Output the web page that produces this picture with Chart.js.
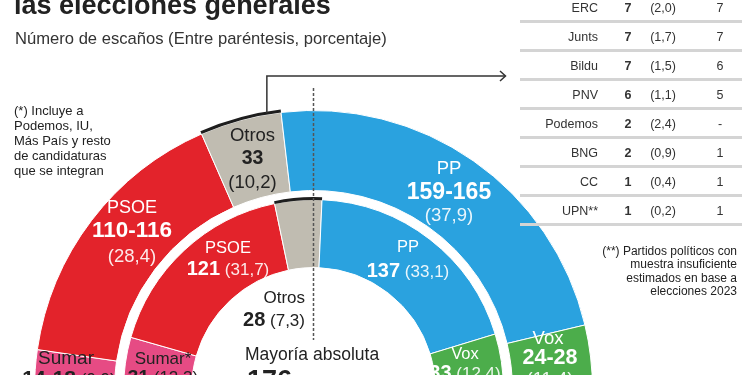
<!DOCTYPE html>
<html lang="es">
<head>
<meta charset="UTF-8">
<meta name="viewport" content="width=device-width, initial-scale=1.0">
<title>Encuesta - las elecciones generales</title>
<script src="https://cdn.jsdelivr.net/npm/chart.js"></script>
<style>
  html, body {
    margin: 0;
    padding: 0;
    width: 750px;
    height: 375px;
    overflow: hidden;
    background: #fff;
    font-family: "Liberation Sans", Arial, sans-serif;
    color: #222;
  }
  #wrap { position: absolute; left: 0; top: 0; width: 750px; height: 400px; }
  .t { position: absolute; white-space: nowrap; line-height: 1; }
  .c { transform: translate(-50%, -50%); text-align: center; }
  .r { transform: translate(-100%, -50%); text-align: right; }
  .l { transform: translate(0, -50%); }
  .w { color: #fff; }
  .w .p { color: rgba(255,255,255,0.9); }
  .d { color: #222; }
  b { font-weight: bold; }
  .title { left: 14px; top: -8px; font-size: 27px; font-weight: bold; color: #222; }
  .sub { left: 15px; top: 39px; font-size: 16.6px; color: #333; }
  .note { font-size: 13px; line-height: 15px; color: #222; white-space: normal; }
  .note2 { font-size: 12px; line-height: 13.3px; color: #222; text-align: right; }
  .row { position: absolute; font-size: 12.5px; color: #333; line-height: 1; }
  .sep { position: absolute; left: 520px; width: 222px; height: 3px; background: #d4d4d4; }
</style>
</head>
<body>
<div id="wrap"><canvas id="chart"></canvas></div>
<div id="labels"></div>

<script>
  // partidos en el semicírculo (de izquierda a derecha)
  const parties = ['Sumar', 'PSOE', 'Otros', 'PP', 'Vox'];
  const innerNames = ['Sumar*', 'PSOE', 'Otros', 'PP', 'Vox'];
  const colors = ['#e64b84', '#e3232b', '#c0bcb1', '#2aa2df', '#4cad4b'];

  // estimación (anillo exterior), escaños centrales de cada horquilla
  const seatsPoll = [16, 113, 33, 162, 26];
  const seatsPollText = ['14-18', '110-116', '33', '159-165', '24-28'];
  const pctPoll = ['9,9', '28,4', '10,2', '37,9', '11,4'];

  // elecciones 2023 (anillo interior)
  const seats2023 = [31, 121, 28, 137, 33];
  const pct2023 = ['12,3', '31,7', '7,3', '33,1', '12,4'];

  // tabla de otros partidos
  const otherParties = ['ERC', 'Junts', 'Bildu', 'PNV', 'Podemos', 'BNG', 'CC', 'UPN**'];
  const otherSeats = [7, 7, 7, 6, 2, 2, 1, 1];
  const otherPct = ['2,0', '1,7', '1,5', '1,1', '2,4', '0,9', '0,4', '0,2'];
  const otherSeats2023 = ['7', '7', '6', '5', '-', '1', '1', '1'];

  const majority = 176;

  // black brackets over "Otros", the arrow to the table and the half line
  const decor = {
    id: 'decor',
    afterDatasetsDraw(chart) {
      const ctx = chart.ctx;
      const o = chart.getDatasetMeta(0).data[2];
      const i = chart.getDatasetMeta(2).data[2];
      ctx.save();
      ctx.strokeStyle = '#1e1e1e';
      ctx.lineWidth = 3;
      const ro = o.outerRadius + 1.5;
      ctx.beginPath();
      ctx.arc(o.x, o.y, ro, o.startAngle, o.endAngle);
      ctx.stroke();
      ctx.beginPath();
      ctx.arc(i.x, i.y, i.outerRadius + 1, i.startAngle, i.endAngle);
      ctx.stroke();

      // connector
      const a = o.startAngle + (o.endAngle - o.startAngle) * 0.83;
      const px = o.x + Math.cos(a) * ro;
      const py = o.y + Math.sin(a) * ro;
      ctx.lineWidth = 1.5;
      ctx.strokeStyle = '#333';
      ctx.beginPath();
      ctx.moveTo(px, py);
      ctx.lineTo(px, 76);
      ctx.lineTo(505, 76);
      ctx.stroke();
      ctx.beginPath();
      ctx.moveTo(500, 71);
      ctx.lineTo(505.5, 76);
      ctx.lineTo(500, 81);
      ctx.stroke();

      // dashed half line
      ctx.strokeStyle = '#555';
      ctx.lineWidth = 1.5;
      ctx.setLineDash([3, 2]);
      ctx.beginPath();
      ctx.moveTo(o.x, 88);
      ctx.lineTo(o.x, 340);
      ctx.stroke();
      ctx.restore();
    }
  };

  new Chart(document.getElementById('chart'), {
    type: 'doughnut',
    data: {
      labels: parties,
      datasets: [
        { data: seatsPoll, backgroundColor: colors, borderColor: '#fff', borderWidth: 1, weight: 80 },
        { data: [1], backgroundColor: 'rgba(0,0,0,0)', borderWidth: 0, weight: 9 },
        { data: seats2023, backgroundColor: colors, borderColor: '#fff', borderWidth: 1, weight: 68 }
      ]
    },
    options: {
      responsive: true,
      maintainAspectRatio: false,
      animation: false,
      rotation: -90,
      circumference: 180,
      cutout: '43.7%',
      layout: { padding: { left: 34, right: 157, top: 110, bottom: 10 } },
      plugins: { legend: { display: false }, tooltip: { enabled: false } }
    },
    plugins: [decor]
  });

  // texts
  let html = '';
  html += '<div class="t title">las elecciones generales</div>';
  html += '<div class="t sub l">Número de escaños (Entre paréntesis, porcentaje)</div>';
  html += '<div class="t note" style="left:14px;top:103px;width:140px">(*) Incluye a<br>Podemos, IU,<br>Más País y resto<br>de candidaturas<br>que se integran</div>';
  html += '<div class="t note2" style="right:13px;top:245px">(**) Partidos políticos con<br>muestra insuficiente<br>estimados en base a<br>elecciones 2023</div>';

  // table
  otherParties.forEach((p, k) => {
    const y = 7.5 + 29 * k;
    html += `<div class="t row r" style="left:598px;top:${y}px">${p}</div>`;
    html += `<div class="t row c" style="left:628px;top:${y}px"><b>${otherSeats[k]}</b></div>`;
    html += `<div class="t row c" style="left:663px;top:${y}px">(${otherPct[k]})</div>`;
    html += `<div class="t row c" style="left:720px;top:${y}px">${otherSeats2023[k]}</div>`;
    html += `<div class="sep" style="top:${y + 12}px"></div>`;
  });

  // labels on outer ring
  const lab = (x, y, cls, size, txt) =>
    `<div class="t ${cls}" style="left:${x}px;top:${y}px;font-size:${size}px">${txt}</div>`;

  html += lab(66, 357, 'c d', 19, parties[0]);
  html += lab(69, 377, 'c d', 17, `<b style="font-size:21px">${seatsPollText[0]}</b> (${pctPoll[0]})`);
  html += lab(132, 207, 'c w', 18, parties[1]);
  html += lab(132, 230, 'c w', 22.5, `<b>${seatsPollText[1]}</b>`);
  html += lab(132, 256, 'c w', 18.5, `<span class="p">(${pctPoll[1]})</span>`);
  html += lab(252.5, 135, 'c d', 18.5, parties[2]);
  html += lab(252.5, 158, 'c d', 19.5, `<b>${seatsPollText[2]}</b>`);
  html += lab(252.5, 182, 'c d', 18.5, `(${pctPoll[2]})`);
  html += lab(449, 168, 'c w', 18.5, parties[3]);
  html += lab(449, 191, 'c w', 23, `<b>${seatsPollText[3]}</b>`);
  html += lab(449, 215, 'c w', 18.5, `<span class="p">(${pctPoll[3]})</span>`);
  html += lab(548, 338, 'c w', 18.5, parties[4]);
  html += lab(550, 358, 'c w', 21.5, `<b>${seatsPollText[4]}</b>`);
  html += lab(550, 379, 'c w', 18.5, `<span class="p">(${pctPoll[4]})</span>`);

  // labels on inner ring
  html += lab(163, 358, 'c d', 17, innerNames[0]);
  html += lab(163, 376, 'c d', 17, `<b style="font-size:19px">${seats2023[0]}</b> (${pct2023[0]})`);
  html += lab(228, 247, 'c w', 16.5, innerNames[1]);
  html += lab(228, 268, 'c w', 17, `<b style="font-size:20px">${seats2023[1]}</b> <span class="p">(${pct2023[1]})</span>`);
  html += lab(305, 297, 'r d', 17, innerNames[2]);
  html += lab(305, 319, 'r d', 17, `<b style="font-size:20px">${seats2023[2]}</b> (${pct2023[2]})`);
  html += lab(408, 246, 'c w', 16.5, innerNames[3]);
  html += lab(408, 270, 'c w', 17, `<b style="font-size:20px">${seats2023[3]}</b> <span class="p">(${pct2023[3]})</span>`);
  html += lab(465, 353, 'c w', 16.5, innerNames[4]);
  html += lab(465, 372, 'c w', 17, `<b style="font-size:20px">${seats2023[4]}</b> <span class="p">(${pct2023[4]})</span>`);

  html += lab(312, 355, 'c d', 17.5, 'Mayoría absoluta');
  html += lab(247, 380, 'l d', 17, `<b style="font-size:27px">${majority}</b> escaños`);

  document.getElementById('labels').innerHTML = html;
</script>
</body>
</html>
